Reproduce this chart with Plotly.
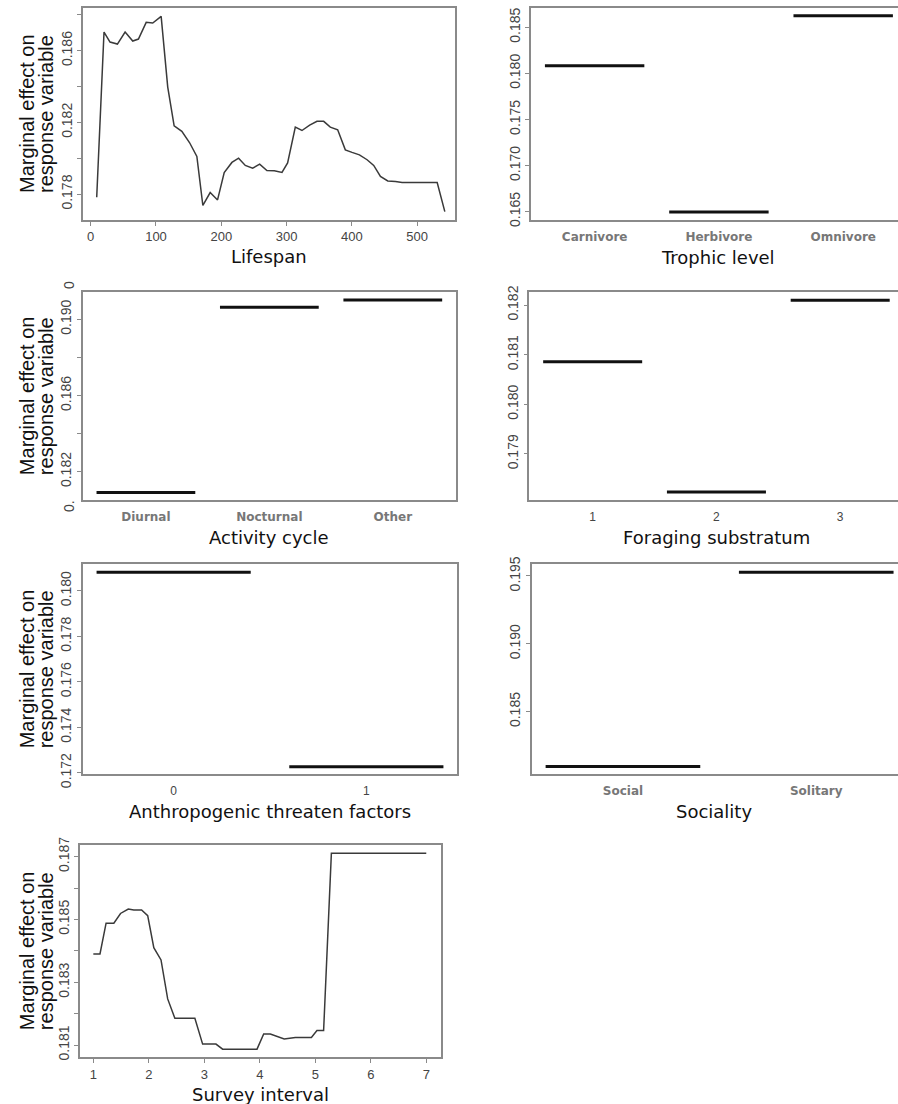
import plotly.graph_objects as go

# ---------------- data ----------------
lifespan_x = [9.2, 20.4, 29.6, 40.9, 52.7, 64.4, 73.1, 85, 95, 107.9, 118, 127.8, 139.6, 151.3,
              162.6, 171.8, 183, 194.3, 204.5, 216.3, 226.5, 236.8, 248, 258.8, 269.9, 281.2,
              293, 301.6, 313.4, 323.6, 335.4, 346.6, 356.9, 367, 378.3, 390, 400.3, 411.6,
              423.3, 433.5, 443.8, 455, 466.8, 477, 489.8, 530.7, 542.4]
lifespan_y = [0.17783, 0.18704, 0.18648, 0.18637, 0.18704, 0.18654, 0.18665, 0.18758, 0.18754,
              0.18791, 0.18397, 0.18181, 0.18150, 0.18088, 0.18010, 0.17737, 0.17809, 0.17768,
              0.17921, 0.17977, 0.18001, 0.17960, 0.17945, 0.17967, 0.17932, 0.17930, 0.17921,
              0.17974, 0.18174, 0.18155, 0.18185, 0.18206, 0.18206, 0.18174, 0.18159, 0.18047,
              0.18033, 0.18019, 0.17992, 0.17960, 0.17899, 0.17874, 0.17871, 0.17865, 0.17865,
              0.17865, 0.17703]

survey_x = [1.0, 1.12, 1.23, 1.37, 1.49, 1.63, 1.73, 1.87, 1.98, 2.09, 2.22, 2.34, 2.47, 2.83,
            2.97, 3.21, 3.33, 3.95, 4.07, 4.19, 4.44, 4.64, 4.93, 5.03, 5.15, 5.29, 7.0]
survey_y = [0.18390, 0.18390, 0.18488, 0.18488, 0.18519, 0.18533, 0.18530, 0.18530, 0.18512,
            0.18410, 0.18371, 0.18247, 0.18185, 0.18185, 0.18103, 0.18103, 0.18087, 0.18087,
            0.18135, 0.18135, 0.18119, 0.18124, 0.18124, 0.18146, 0.18146, 0.18711, 0.18711]

trophic_cats = ["Carnivore", "Herbivore", "Omnivore"]
trophic_vals = [0.18083, 0.16496, 0.18627]

activity_cats = ["Diurnal", "Nocturnal", "Other"]
activity_vals = [0.18091, 0.19063, 0.19102]

foraging_cats = ["1", "2", "3"]
foraging_vals = [0.18086, 0.17823, 0.18210]

anthro_cats = ["0", "1"]
anthro_vals = [0.18081, 0.17226]

social_cats = ["Social", "Solitary"]
social_vals = [0.18095, 0.19527]

lifespan_xticks = [0, 100, 200, 300, 400, 500]
survey_xticks = [1, 2, 3, 4, 5, 6, 7]

lifespan_yticks = [0.178, 0.180, 0.182, 0.184, 0.186, 0.188]
lifespan_ylabels = ["0.178", "", "0.182", "", "0.186", ""]
trophic_yticks = [0.165, 0.170, 0.175, 0.180, 0.185]
trophic_ylabels = ["0.165", "0.170", "0.175", "0.180", "0.185"]
activity_yticks = [0.182, 0.184, 0.186, 0.188, 0.190]
activity_ylabels = ["0.182", "", "0.186", "", "0.190"]
foraging_yticks = [0.179, 0.180, 0.181, 0.182]
foraging_ylabels = ["0.179", "0.180", "0.181", "0.182"]
anthro_yticks = [0.172, 0.174, 0.176, 0.178, 0.180]
anthro_ylabels = ["0.172", "0.174", "0.176", "0.178", "0.180"]
social_yticks = [0.185, 0.190, 0.195]
social_ylabels = ["0.185", "0.190", "0.195"]
survey_yticks = [0.181, 0.182, 0.183, 0.184, 0.185, 0.186, 0.187]
survey_ylabels = ["0.181", "", "0.183", "", "0.185", "", "0.187"]

x_titles = ["Lifespan", "Trophic level", "Activity cycle", "Foraging substratum",
            "Anthropogenic threaten factors", "Sociality", "Survey interval"]
y_title_lines = ["Marginal effect on", "response variable"]

# ---------------- layout helpers ----------------
W, H = 898, 1104
FRAME = "#8a8a8a"
TICKCOL = "#444444"
NUMFONT = dict(family="Liberation Sans, Arial, sans-serif", size=14, color=TICKCOL)
XNUMFONT = dict(family="Liberation Sans, Arial, sans-serif", size=13, color=TICKCOL)
CATFONT = dict(family="DejaVu Sans, sans-serif", size=12, color="#777777", weight="bold")
CATNUMFONT = dict(family="Liberation Sans, Arial, sans-serif", size=12, color=TICKCOL)


def dx(l, r):
    return [l / W, min(r / W, 1.0)]


def dy(t, b):
    return [1 - b / H, 1 - t / H]


fig = go.Figure()
layout = dict(template="none", width=W, height=H, autosize=False,
              margin=dict(l=0, r=0, t=0, b=0, pad=0, autoexpand=False),
              paper_bgcolor="white", plot_bgcolor="white", showlegend=False)

panels = [
    dict(box=(83, 8, 455, 220), xr=[-11.8, 558], yr=[0.17656, 0.18838], kind="line",
         x=lifespan_x, y=lifespan_y, xt=lifespan_xticks, yt=lifespan_yticks, yl=lifespan_ylabels,
         right=False, title_y=256),
    dict(box=(531, 8, 898, 220), xr=[0.488, 3.441], yr=[0.16409, 0.1871], kind="cat",
         cats=trophic_cats, vals=trophic_vals, catfont=CATFONT,
         yt=trophic_yticks, yl=trophic_ylabels, right=True, title_y=257, tcx=718),
    dict(box=(82.7, 292.3, 456, 500), xr=[0.488, 3.512], yr=[0.18051, 0.19142], kind="cat",
         cats=activity_cats, vals=activity_vals, catfont=CATFONT,
         yt=activity_yticks, yl=activity_ylabels, right=False, title_y=537),
    dict(box=(529.3, 292.3, 898, 500), xr=[0.488, 3.467], yr=[0.17807, 0.18226], kind="cat",
         cats=foraging_cats, vals=foraging_vals, catfont=CATNUMFONT,
         yt=foraging_yticks, yl=foraging_ylabels, right=True, title_y=537, tcx=716),
    dict(box=(82.7, 564.3, 457.3, 774.3), xr=[0.528, 2.472], yr=[0.17193, 0.18116], kind="cat",
         cats=anthro_cats, vals=anthro_vals, catfont=CATNUMFONT,
         yt=anthro_yticks, yl=anthro_ylabels, right=False, title_y=811),
    dict(box=(531.7, 564.3, 898, 774.3), xr=[0.528, 2.423], yr=[0.18038, 0.19586], kind="cat",
         cats=social_cats, vals=social_vals, catfont=CATFONT,
         yt=social_yticks, yl=social_ylabels, right=True, title_y=811, tcx=714),
    dict(box=(80, 845, 440.7, 1057.3), xr=[0.76, 7.26], yr=[0.18061, 0.18737], kind="line",
         x=survey_x, y=survey_y, xt=survey_xticks, yt=survey_yticks, yl=survey_ylabels,
         right=False, title_y=1094),
]

annotations = []
for i, p in enumerate(panels):
    n = "" if i == 0 else str(i + 1)
    xa, ya = "x" + n, "y" + n
    l, t, r, b = p["box"]
    if p["kind"] == "line":
        fig.add_trace(go.Scatter(x=p["x"], y=p["y"], mode="lines",
                                 line=dict(color="#3a3a3a", width=1.5),
                                 xaxis=xa, yaxis=ya, hoverinfo="skip"))
        xaxis = dict(tickvals=p["xt"], ticktext=[str(v) for v in p["xt"]], ticks="outside",
                     ticklen=4, tickwidth=1, tickcolor=FRAME, tickfont=XNUMFONT)
    else:
        positions = list(range(1, len(p["cats"]) + 1))
        for pos, v in zip(positions, p["vals"]):
            fig.add_trace(go.Scatter(x=[pos - 0.4, pos + 0.4], y=[v, v], mode="lines",
                                     line=dict(color="#111111", width=3),
                                     xaxis=xa, yaxis=ya, hoverinfo="skip"))
        xaxis = dict(tickvals=positions, ticktext=p["cats"], ticks="", tickfont=p["catfont"],
                     ticklabelstandoff=5)
    xaxis.update(domain=dx(l, r), range=p["xr"], anchor=ya, showline=True, linecolor=FRAME,
                 linewidth=1.5, mirror=True, showgrid=False, zeroline=False, fixedrange=True,
                 automargin=False)
    yaxis = dict(domain=dy(t, b), range=p["yr"], anchor=xa, showline=True, linecolor=FRAME,
                 linewidth=1.5, mirror=(not p["right"]), showgrid=False, zeroline=False,
                 tickvals=p["yt"], ticktext=p["yl"], ticks="outside", ticklen=4, tickwidth=1,
                 tickcolor=FRAME, tickfont=NUMFONT, tickangle=-90, fixedrange=True,
                 automargin=False)
    layout["xaxis" + n] = xaxis
    layout["yaxis" + n] = yaxis

    cx = p.get("tcx", (l + r) / 2)
    annotations.append(dict(text=x_titles[i], xref="paper", yref="paper", x=cx / W,
                            y=1 - p["title_y"] / H, xanchor="center", yanchor="middle",
                            showarrow=False,
                            font=dict(family="DejaVu Sans, sans-serif", size=18, color="#111111")))
    if not p["right"]:
        for line_text, lx in zip(y_title_lines, [27, 46]):
            annotations.append(dict(text=line_text, xref="paper", yref="paper", x=lx / W,
                                    y=1 - (t + b) / 2 / H, xanchor="center", yanchor="middle",
                                    textangle=-90, showarrow=False,
                                    font=dict(family="Liberation Sans, Arial, sans-serif",
                                              size=20, color="#111111")))

# clipped tick-label fragments visible in the activity-cycle panel
annotations.append(dict(text="0.", xref="paper", yref="paper", x=69 / W, y=1 - 506 / H,
                        xanchor="center", yanchor="middle", textangle=-90, showarrow=False,
                        font=NUMFONT))
annotations.append(dict(text="0", xref="paper", yref="paper", x=69 / W, y=1 - 285 / H,
                        xanchor="center", yanchor="middle", textangle=-90, showarrow=False,
                        font=NUMFONT))

layout["annotations"] = annotations
fig.update_layout(**layout)
fig.write_html("out.html", config={"displayModeBar": False},
               post_script="document.body.style.margin='0';"
                           "document.body.style.overflow='hidden';")
